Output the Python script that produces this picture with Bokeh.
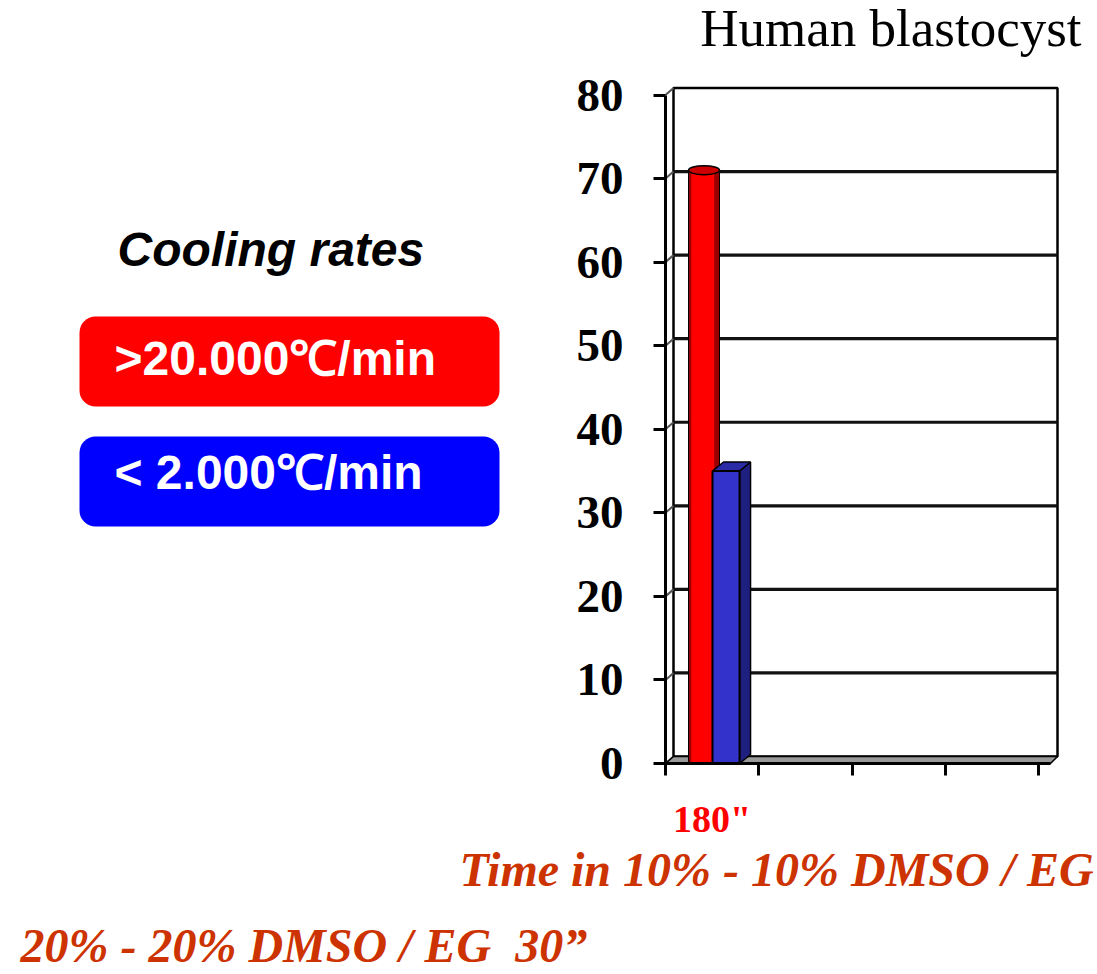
from bokeh.plotting import figure
from bokeh.models import BoxAnnotation, FixedTicker, Range1d
from bokeh.core.properties import value
from bokeh.embed import file_html
from bokeh.resources import INLINE

# ---------------- data ----------------
chart_title = "Human blastocyst"
legend_title = "Cooling rates"
series_labels = [">20.000\u2103/min", "< 2.000\u2103/min"]
series_colors = ["#FF0000", "#0000FF"]
categories = ['180"', "", "", ""]
rapid_values = [71]   # >20.000 C/min
slow_values = [35]    # < 2.000 C/min
y_ticks = [0, 10, 20, 30, 40, 50, 60, 70, 80]
x_title = "Time in 10% - 10% DMSO / EG"
footnote = "20% - 20% DMSO / EG\u00a0\u00a030\u201d"

# ---------------- geometry / style ----------------
W, H = 1097, 974
X0_PX, Y0_PX = 665, 763            # pixel position of the chart origin
X_PER = 93.25                      # px per category
Y_PX = (Y0_PX - 94.5) / 80.0       # px per unit


def dxp(X):  # canvas px -> data x
    return (X - X0_PX) / X_PER


def dyp(Y):  # canvas px -> data y
    return (Y0_PX - Y) / Y_PX


p = figure(width=W, height=H,
           x_range=Range1d(dxp(0), dxp(W)), y_range=Range1d(dyp(H), dyp(0)),
           output_backend="svg", toolbar_location=None,
           min_border=0, min_border_left=0, min_border_right=0,
           min_border_top=0, min_border_bottom=0)
p.grid.visible = False
p.outline_line_color = None
p.background_fill_color = "white"
p.border_fill_color = "white"

# legend boxes (underlay, so texts go on top)
for i, col in enumerate(series_colors):
    top = 316 + i * 120
    p.add_layout(BoxAnnotation(left=dxp(79), right=dxp(499), top=dyp(top), bottom=dyp(top + 90),
                               fill_color=col, fill_alpha=1.0, line_color=None,
                               border_radius=16, level="underlay"))

# 3D wall offsets
dx = 8 / X_PER
dy = 7 / Y_PX
wall_right = dxp(1057)
floor_front_right = dxp(1050)
top_val = y_ticks[-1]

# back wall
p.quad(left=dx, right=wall_right, bottom=dy, top=top_val + dy,
       fill_color="white", line_color="black", line_width=2.5)
inner = y_ticks[1:-1]
p.segment(x0=[dx] * len(inner), x1=[wall_right] * len(inner),
          y0=[v + dy for v in inner], y1=[v + dy for v in inner],
          line_color="#111111", line_width=3.2)
p.segment(x0=[0] * len(y_ticks), x1=[dx] * len(y_ticks),
          y0=y_ticks, y1=[v + dy for v in y_ticks],
          line_color="#555555", line_width=2)
# floor
p.patch(x=[0, floor_front_right, wall_right, dx], y=[0, 0, dy, dy],
        fill_color="#999999", line_color="black", line_width=1.5)

# bars (category 0)
offsets = [-0.087, 0.149]
widths = [0.332, 0.29]
cat_centers = [i + 0.5 for i in range(len(rapid_values))]

# red cylinder
rx = [c + offsets[0] for c in cat_centers]
p.vbar(x=rx, width=widths[0], top=rapid_values, bottom=0,
       fill_color="#9A0000", line_color="black", line_width=1)
p.vbar(x=[x - widths[0] * 0.04 for x in rx], width=widths[0] * 0.74, top=rapid_values, bottom=0,
       fill_color="#FF0000", line_color=None)
p.ellipse(x=rx, y=rapid_values, width=widths[0], height=9, height_units="screen",
          fill_color="#CC0000", line_color="black", line_width=1.5)

# blue box
bx = [c + offsets[1] for c in cat_centers]
bdx = 11 / X_PER
bdy = 9 / Y_PX
for x, v in zip(bx, slow_values):
    l, r = x - widths[1] / 2, x + widths[1] / 2
    p.patch(x=[r, r + bdx, r + bdx, r], y=[0, bdy, v + bdy, v],
            fill_color="#1F1F80", line_color="black", line_width=1.5)
    p.patch(x=[l, l + bdx, r + bdx, r], y=[v, v + bdy, v + bdy, v],
            fill_color="#2B2BA8", line_color="black", line_width=1.5)
p.vbar(x=bx, width=widths[1], top=slow_values, bottom=0,
       fill_color="#3333CC", line_color="black", line_width=2)

# axes (placed at the chart origin inside the full-canvas frame)
ya = p.yaxis[0]
ya.fixed_location = 0
ya.ticker = FixedTicker(ticks=y_ticks)
ya.bounds = (0, top_val)
ya.axis_line_width = 3
ya.axis_line_color = "black"
ya.major_tick_line_width = 3
ya.major_tick_out = 12
ya.major_tick_in = 0
ya.minor_tick_line_color = None
ya.major_label_text_font = "Liberation Serif"
ya.major_label_text_font_style = "bold"
ya.major_label_text_font_size = "47px"
ya.major_label_text_color = "black"
ya.major_label_standoff = 30

xa = p.xaxis[0]
xa.fixed_location = 0
xa.ticker = FixedTicker(ticks=[0.5], minor_ticks=list(range(len(categories) + 1)))
xa.bounds = (0, floor_front_right)
xa.axis_line_width = 3
xa.axis_line_color = "black"
xa.major_tick_out = 0
xa.major_tick_in = 0
xa.minor_tick_out = 12
xa.minor_tick_in = 0
xa.minor_tick_line_width = 3
xa.minor_tick_line_color = "black"
xa.major_label_overrides = {0.5: categories[0]}
xa.major_label_text_font = "Liberation Serif"
xa.major_label_text_font_style = "bold"
xa.major_label_text_font_size = "38px"
xa.major_label_text_color = "#FF0000"
xa.major_label_standoff = 22


def txt(text, X, Y, font, size, style, color, align="left"):
    # Y is the wanted baseline in canvas px; compensate for the svg baseline shift
    p.text(x=[dxp(X)], y=[dyp(Y - 0.38 * size)], text=[text], text_font=value(font),
           text_font_size=f"{size}px", text_font_style=style,
           text_color=color, text_align=align, text_baseline="alphabetic")


for i, lab in enumerate(series_labels):
    txt(lab, 114, 376 + i * 114, "Liberation Sans", 48, "bold", "white")

txt(legend_title, 117, 267, "Liberation Sans", 48, "bold italic", "black")
txt(chart_title, 1081, 48, "Liberation Serif", 53, "normal", "black", align="right")
txt(x_title, 459, 887, "Liberation Serif", 48, "bold italic", "#CC3300")
txt(footnote, 20, 963, "Liberation Serif", 48, "bold italic", "#CC3300")

open("out.html", "w").write(file_html(p, INLINE))
